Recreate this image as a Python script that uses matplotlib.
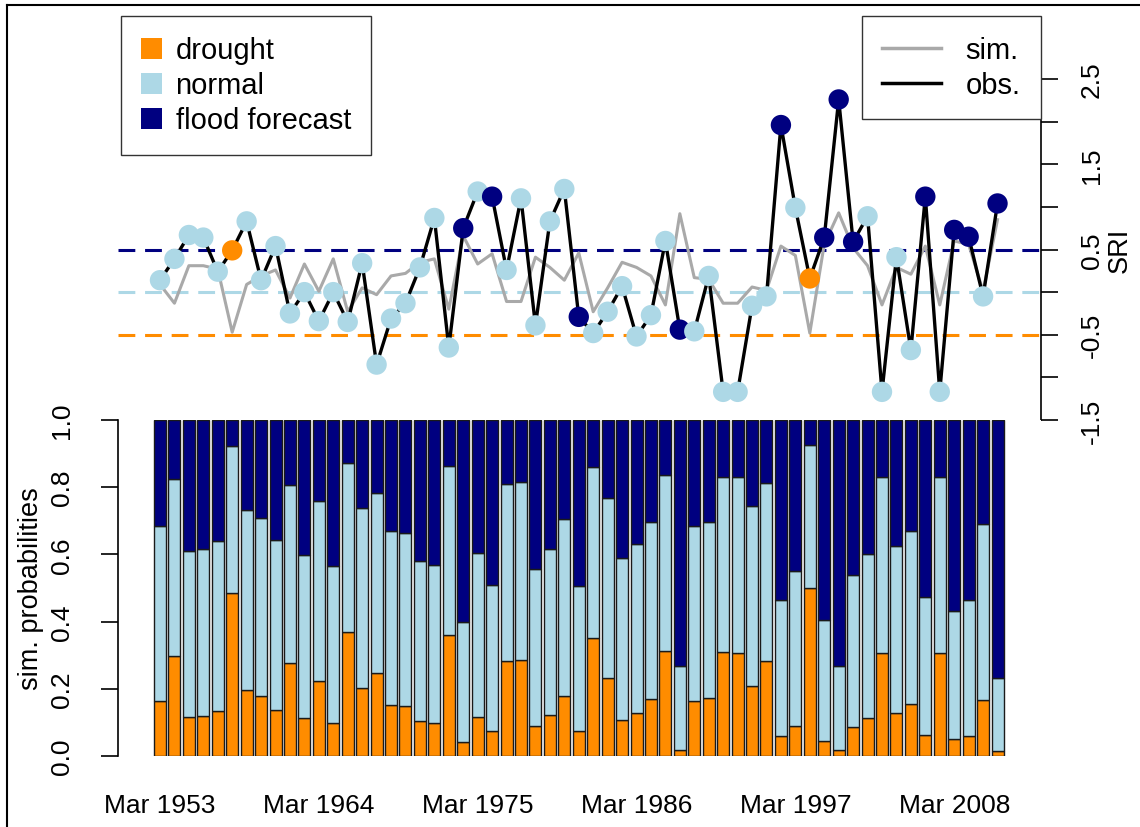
import numpy as np
import matplotlib
matplotlib.use("Agg")
import matplotlib.pyplot as plt
from matplotlib.patches import Patch
from matplotlib.lines import Line2D

plt.rcParams['font.family'] = ['Liberation Sans', 'DejaVu Sans']

# --- data -------------------------------------------------------------
years = list(range(1953, 2012))

# observed and simulated SRI (March)
sri_obs = [0.14, 0.39, 0.67, 0.64, 0.24, 0.49, 0.83, 0.14, 0.54, -0.25,
           0.00, -0.34, 0.00, -0.35, 0.34, -0.85, -0.31, -0.13, 0.29, 0.87,
           -0.65, 0.75, 1.18, 1.12, 0.26, 1.10, -0.39, 0.83, 1.21, -0.29,
           -0.48, -0.23, 0.07, -0.52, -0.27, 0.60, -0.44, -0.46, 0.19, -1.17,
           -1.17, -0.16, -0.05, 1.96, 0.99, 0.16, 0.64, 2.26, 0.59, 0.89,
           -1.17, 0.41, -0.68, 1.12, -1.17, 0.73, 0.65, -0.05, 1.04]
sri_sim = [0.09, -0.13, 0.31, 0.31, 0.27, -0.47, 0.09, 0.19, 0.26, -0.07,
           0.33, 0.01, 0.39, -0.23, 0.05, -0.03, 0.19, 0.22, 0.35, 0.39,
           -0.20, 0.66, 0.33, 0.45, -0.11, -0.11, 0.41, 0.29, 0.14, 0.46,
           -0.23, 0.05, 0.35, 0.29, 0.19, -0.15, 0.92, 0.17, 0.15, -0.13,
           -0.13, 0.06, 0.02, 0.54, 0.43, -0.48, 0.56, 0.93, 0.52, 0.31,
           -0.15, 0.29, 0.21, 0.54, -0.15, 0.60, 0.56, 0.01, 0.85]

# simulated class probabilities
p_drought = [0.163, 0.299, 0.117, 0.120, 0.135, 0.485, 0.197, 0.180, 0.137, 0.277,
             0.112, 0.224, 0.097, 0.370, 0.202, 0.246, 0.153, 0.150, 0.103, 0.098,
             0.360, 0.043, 0.117, 0.075, 0.282, 0.286, 0.090, 0.122, 0.178, 0.073,
             0.351, 0.231, 0.108, 0.128, 0.170, 0.313, 0.018, 0.163, 0.172, 0.309,
             0.307, 0.209, 0.282, 0.060, 0.088, 0.499, 0.044, 0.018, 0.085, 0.113,
             0.307, 0.127, 0.155, 0.063, 0.307, 0.051, 0.059, 0.168, 0.014]
p_normal = [0.522, 0.525, 0.494, 0.496, 0.506, 0.437, 0.535, 0.528, 0.507, 0.530,
            0.487, 0.536, 0.468, 0.502, 0.536, 0.536, 0.516, 0.514, 0.478, 0.471,
            0.504, 0.357, 0.487, 0.434, 0.529, 0.530, 0.467, 0.494, 0.527, 0.434,
            0.508, 0.537, 0.481, 0.503, 0.525, 0.524, 0.251, 0.522, 0.525, 0.522,
            0.522, 0.534, 0.531, 0.405, 0.462, 0.428, 0.362, 0.249, 0.455, 0.488,
            0.524, 0.499, 0.516, 0.409, 0.524, 0.380, 0.405, 0.522, 0.218]

label_years = [1953, 1964, 1975, 1986, 1997, 2008]

ORANGE = '#FF8C00'
LIGHTBLUE = '#ADD8E6'
NAVY = '#000080'

x = np.arange(len(years))
p_drought = np.array(p_drought)
p_normal = np.array(p_normal)
p_flood = 1 - p_drought - p_normal

# forecast class = most probable simulated class
class_cols = np.array([ORANGE, LIGHTBLUE, NAVY])
point_cols = class_cols[np.argmax(np.vstack([p_drought, p_normal, p_flood]), axis=0)]

# --- layout -----------------------------------------------------------
W, H = 1140, 828
fig = plt.figure(figsize=(W / 100, H / 100), dpi=100)


def px_box(left, top, right, bottom):
    return [left / W, 1 - bottom / H, (right - left) / W, (bottom - top) / H]


xlim = ((118 - 160) / 14.44, (1041 - 160) / 14.44)

# top panel: SRI series
ax = fig.add_axes(px_box(118, 80, 1041, 421))
for lev, col in [(0.5, NAVY), (0.0, LIGHTBLUE), (-0.5, ORANGE)]:
    ax.axhline(lev, color=col, lw=2.2, dashes=(5.5, 3.2), zorder=1)
ax.plot(x, sri_sim, color='darkgray', lw=2.2, zorder=2)
ax.plot(x, sri_obs, color='black', lw=2.4, zorder=3)
ax.scatter(x, sri_obs, s=215, c=point_cols, edgecolors='none', zorder=4, clip_on=False)
ax.set_xlim(xlim)
ax.set_ylim(-1.5, 2.5)
for s in ['top', 'left', 'bottom']:
    ax.spines[s].set_visible(False)
ax.spines['right'].set_linewidth(1.2)
ax.yaxis.tick_right()
ax.yaxis.set_label_position('right')
ticks = np.arange(-1.5, 2.51, 0.5)
ax.set_yticks(ticks)
ax.set_yticklabels([f'{t:g}' if i % 2 == 0 else '' for i, t in enumerate(ticks)],
                   rotation=90, va='center', fontsize=19)
ax.tick_params(axis='y', length=12, width=1.2, pad=16)
ax.set_xticks([])
ax.set_ylabel('SRI', fontsize=19.5, rotation=90, labelpad=2)
ax.patch.set_visible(False)

# bottom panel: stacked probabilities
axb = fig.add_axes(px_box(118, 421, 1041, 757))
bw = 1 / 1.2
bar_kw = dict(width=bw, edgecolor='#1a1a1a', lw=1.0)
axb.bar(x, p_drought, color=ORANGE, **bar_kw)
axb.bar(x, p_normal, bottom=p_drought, color=LIGHTBLUE, **bar_kw)
axb.bar(x, p_flood, bottom=p_drought + p_normal, color=NAVY, **bar_kw)
axb.set_xlim(xlim)
axb.set_ylim(0, 1)
for s in ['top', 'right', 'bottom']:
    axb.spines[s].set_visible(False)
axb.spines['left'].set_linewidth(1.2)
axb.set_yticks(np.arange(0, 1.01, 0.2))
axb.set_yticklabels([f'{t:.1f}' for t in np.arange(0, 1.01, 0.2)],
                    rotation=90, va='center', fontsize=19)
axb.tick_params(axis='y', length=12, width=1.2, pad=20)
axb.set_xticks([years.index(y) for y in label_years])
axb.set_xticklabels([f'Mar {y}' for y in label_years], fontsize=19)
axb.tick_params(axis='x', length=0, pad=27)
axb.set_ylabel('sim. probabilities', fontsize=19.5, labelpad=4)

# legends
h_cls = [Patch(facecolor=ORANGE, edgecolor='none', label='drought'),
         Patch(facecolor=LIGHTBLUE, edgecolor='none', label='normal'),
         Patch(facecolor=NAVY, edgecolor='none', label='flood forecast')]
leg1 = fig.legend(handles=h_cls, loc='upper left', bbox_to_anchor=(121 / W, 1 - 17 / H),
                  fontsize=21, fancybox=False, edgecolor='#333333', framealpha=1,
                  handlelength=0.72, handleheight=0.72, handletextpad=0.45,
                  borderpad=0.7, labelspacing=0.24, borderaxespad=0)
leg1.get_frame().set_linewidth(1.0)

h_lines = [Line2D([], [], color='darkgray', lw=2.5, label='sim.'),
           Line2D([], [], color='black', lw=2.5, label='obs.')]
leg2 = fig.legend(handles=h_lines, loc='upper right', bbox_to_anchor=(1041 / W, 1 - 17 / H),
                  fontsize=21, fancybox=False, edgecolor='#333333', framealpha=1,
                  handlelength=2.0, handletextpad=0.85, borderpad=0.7,
                  labelspacing=0.22, borderaxespad=0)
leg2.get_frame().set_linewidth(1.0)

# outer frame
fig.add_artist(Line2D([7 / W, 7 / W], [0, 1 - 6 / H], transform=fig.transFigure, color='black', lw=1.5))
fig.add_artist(Line2D([7 / W, 1], [1 - 6 / H, 1 - 6 / H], transform=fig.transFigure, color='black', lw=1.5))

fig.savefig('out.png', dpi=100)
